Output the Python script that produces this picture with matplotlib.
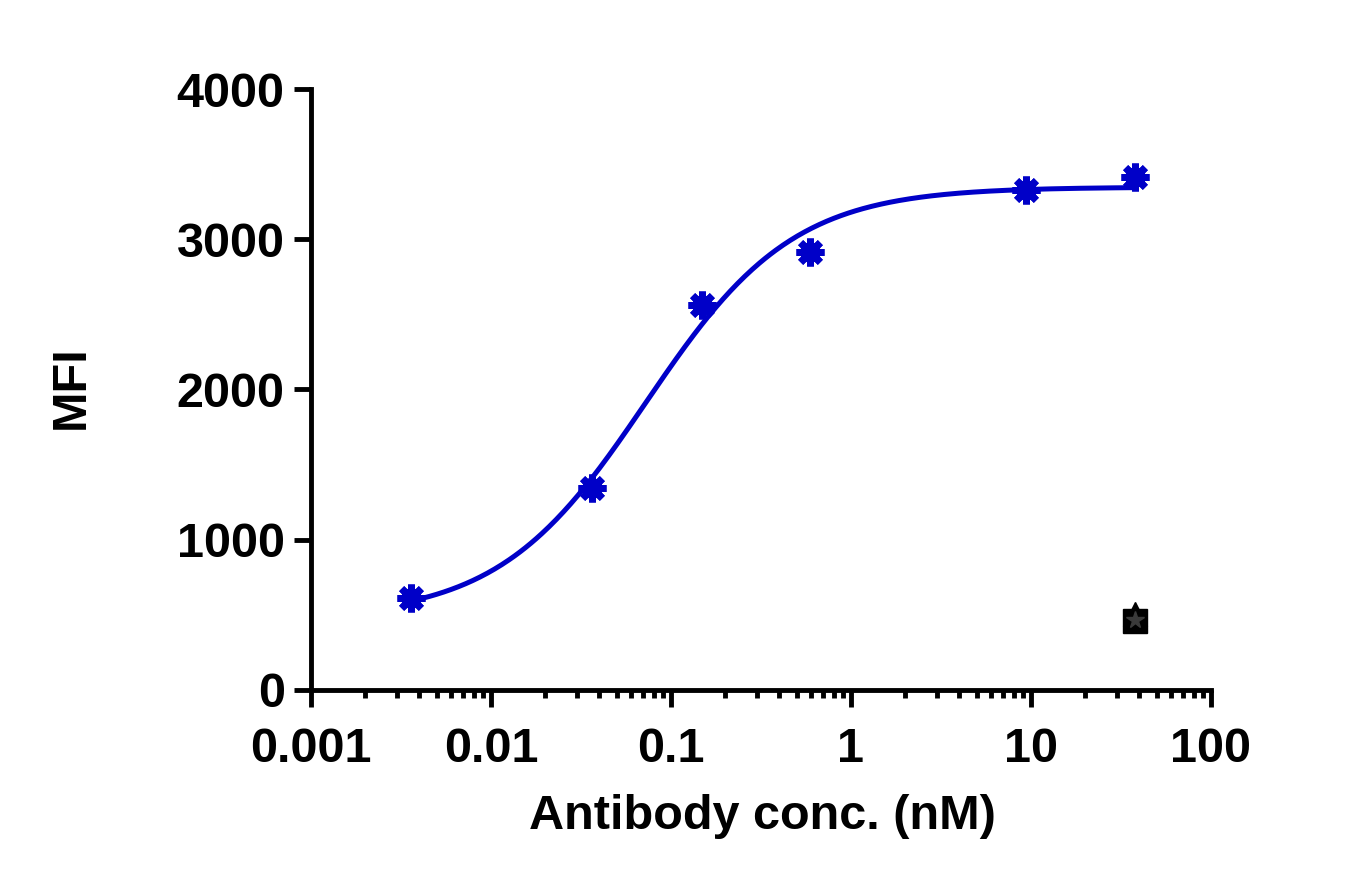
import matplotlib
matplotlib.use("Agg")
import matplotlib.pyplot as plt
from matplotlib.ticker import FixedLocator, LogLocator, NullFormatter
import numpy as np

# antibody binding data
conc_nm = [0.0036, 0.0364, 0.148, 0.59, 9.38, 37.8]
mfi = [612, 1344, 2560, 2915, 3330, 3415]

# isotype / blank controls at the top concentration
ctrl_conc = [37.8]
ctrl_square = [458]
ctrl_triangle = [505]
ctrl_star = [465]

x_ticks = [0.001, 0.01, 0.1, 1, 10, 100]
x_tick_labels = ["0.001", "0.01", "0.1", "1", "10", "100"]
y_ticks = [0, 1000, 2000, 3000, 4000]

BLUE = "#0000c8"


def fit_4pl(x, y):
    """Four-parameter logistic fit: grid on EC50/Hill, linear solve for bottom/top."""
    lx = np.log10(np.asarray(x, dtype=float))
    y = np.asarray(y, dtype=float)
    best = None
    for log_ec50 in np.linspace(-2.5, 0.5, 301):
        for hill in np.linspace(0.4, 3.0, 131):
            s = 1.0 / (1.0 + 10 ** ((log_ec50 - lx) * hill))
            a = np.column_stack([1 - s, s])
            coef, *_ = np.linalg.lstsq(a, y, rcond=None)
            err = np.sum((a @ coef - y) ** 2)
            if best is None or err < best[0]:
                best = (err, coef[0], coef[1], log_ec50, hill)
    return best[1:]


def curve(lx, bottom, top, log_ec50, hill):
    return bottom + (top - bottom) / (1.0 + 10 ** ((log_ec50 - lx) * hill))


plt.rcParams["font.family"] = ["Liberation Sans", "DejaVu Sans"]
plt.rcParams["font.weight"] = "bold"

fig = plt.figure(figsize=(13.66, 8.92), dpi=100, facecolor="white")
ax = fig.add_axes([0.2277, 0.2265, 0.6588, 0.6737])

bottom, top, log_ec50, hill = fit_4pl(conc_nm, mfi)
lx = np.linspace(np.log10(min(conc_nm)), np.log10(max(conc_nm)), 400)
ax.plot(10 ** lx, curve(lx, bottom, top, log_ec50, hill), color=BLUE, lw=3.6,
        zorder=3, clip_on=False)

ax.plot(conc_nm, mfi, ls="none", marker="o", ms=14, color=BLUE, zorder=4,
        clip_on=False)
ax.plot(conc_nm, mfi, ls="none", marker=(8, 2, 0), ms=20, mew=5, color=BLUE,
        zorder=4, clip_on=False)

ax.plot(ctrl_conc, ctrl_triangle, ls="none", marker="^", ms=17, color="black",
        zorder=5)
ax.plot(ctrl_conc, ctrl_square, ls="none", marker="s", ms=17, color="black",
        zorder=6)
ax.plot(ctrl_conc, ctrl_star, ls="none", marker="*", ms=13, color="#3a3a3a",
        zorder=7)

ax.set_xscale("log")
ax.set_xlim(0.001, 100)
ax.set_ylim(0, 4000)
ax.xaxis.set_major_locator(FixedLocator(x_ticks))
ax.set_xticklabels(x_tick_labels)
ax.xaxis.set_minor_locator(LogLocator(base=10, subs=np.arange(2, 10)))
ax.xaxis.set_minor_formatter(NullFormatter())
ax.set_yticks(y_ticks)
ax.set_yticklabels([str(v) for v in y_ticks])

for side in ("top", "right"):
    ax.spines[side].set_visible(False)
for side in ("left", "bottom"):
    ax.spines[side].set_linewidth(3.5)
ax.tick_params(axis="both", which="major", length=12, width=3.5, labelsize=35,
               color="black")
ax.tick_params(axis="x", which="major", pad=15)
ax.tick_params(axis="y", which="major", pad=7)
ax.tick_params(axis="x", which="minor", length=6, width=3.5)

ax.set_xlabel("Antibody conc. (nM)", fontsize=35, fontweight="bold", va="center")
ax.xaxis.set_label_coords(0.502, -0.21)
ax.set_ylabel("MFI", fontsize=35, fontweight="bold", va="center")
ax.yaxis.set_label_coords(-0.2667, 0.504)

fig.savefig("out.png", dpi=100, facecolor="white")
